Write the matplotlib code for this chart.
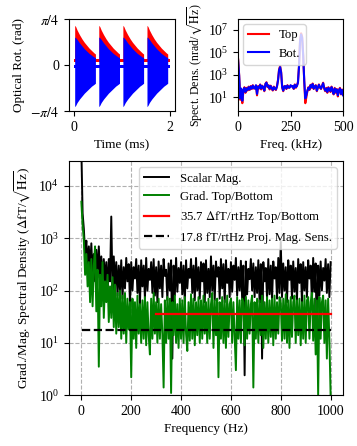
import numpy as np
import matplotlib
matplotlib.use("Agg")
import matplotlib.pyplot as plt
from matplotlib.ticker import FixedLocator, NullLocator

plt.rcParams['font.family'] = 'serif'
plt.rcParams['font.serif'] = ['Liberation Serif', 'DejaVu Serif']
plt.rcParams['mathtext.fontset'] = 'stix'
plt.rcParams['font.size'] = 9.5
plt.rcParams['xtick.labelsize'] = 10
plt.rcParams['ytick.labelsize'] = 10
plt.rcParams['legend.fontsize'] = 9.2

# --- top left: optical rotation, envelope of one pulse (ms from pulse start)
pulse_starts = [0.02, 0.52, 1.02, 1.52]
pulse_t = [0.0, 0.02, 0.05, 0.10, 0.15, 0.20, 0.25, 0.30, 0.35, 0.40, 0.43]
top_upper = [0.68, 0.66, 0.60, 0.52, 0.45, 0.39, 0.34, 0.29, 0.25, 0.21, 0.19]
bot_upper = [0.48, 0.47, 0.44, 0.38, 0.33, 0.28, 0.24, 0.20, 0.17, 0.14, 0.13]
bot_lower = [-0.71, -0.69, -0.64, -0.58, -0.53, -0.48, -0.44, -0.40, -0.36, -0.33, -0.31]
top_base = (0.06, 0.11)
bot_base = (-0.045, 0.0)
t_span = [0.0, 2.0]

# --- top right: optical rotation spectra (kHz)
spec_freq = np.arange(0, 501, 5)
spec_bot = [20000, 800, 8, 60, 5, 40, 70, 30, 60, 45,
            80, 50, 90, 60, 110, 70, 60, 120, 20, 90,
            70, 130, 60, 100, 80, 40, 150, 200, 90, 110,
            60, 100, 70, 45, 80, 60, 50, 90, 300, 2500,
            5000, 1500, 80, 40, 90, 100, 60, 110, 80, 70,
            120, 90, 100, 60, 130, 80, 100, 200, 5000, 1e6,
            4e6, 2e6, 5e4, 300, 8, 15, 40, 70, 50, 120,
            80, 150, 60, 90, 110, 40, 70, 130, 80, 60,
            100, 180, 70, 40, 60, 30, 70, 50, 35, 80,
            40, 20, 60, 30, 50, 15, 40, 60, 20, 45,
            15]
spec_top = [25000, 900, 6, 50, 3, 35, 80, 25, 70, 40,
            90, 45, 100, 55, 120, 60, 70, 110, 15, 100,
            60, 140, 50, 110, 70, 35, 160, 220, 80, 120,
            50, 110, 60, 40, 90, 55, 45, 100, 350, 3000,
            6000, 1800, 70, 35, 100, 90, 55, 120, 70, 80,
            110, 100, 90, 55, 140, 70, 110, 220, 6000, 1.2e6,
            5e6, 2.5e6, 6e4, 250, 3, 10, 35, 80, 45, 130,
            70, 170, 55, 100, 120, 35, 80, 140, 70, 55,
            110, 200, 60, 35, 70, 25, 80, 45, 30, 90,
            35, 18, 70, 25, 55, 12, 45, 70, 18, 50,
            20]

# --- bottom: gradiometer / magnetometer spectra (Hz)
freq = np.arange(0, 1001, 5)
scalar_mag = [50000, 3000, 1500, 500, 900, 300, 700, 250, 800, 200,
              500, 150, 600, 180, 700, 200, 450, 120, 400, 150,
              350, 90, 400, 150, 2600, 100, 450, 120, 350, 80,
              300, 100, 380, 70, 280, 110, 420, 150, 320, 60,
              350, 100, 280, 170, 400, 90, 300, 55, 380, 120,
              300, 70, 420, 100, 260, 160, 350, 90, 400, 80,
              280, 60, 360, 110, 300, 75, 400, 190, 250, 65,
              330, 100, 380, 5, 300, 80, 420, 95, 270, 140,
              350, 85, 300, 60, 380, 110, 260, 175, 400, 90,
              300, 65, 420, 100, 280, 70, 350, 150, 330, 60,
              380, 90, 260, 75, 450, 100, 300, 65, 360, 185,
              280, 70, 400, 110, 320, 60, 380, 140, 260, 75,
              350, 95, 300, 160, 420, 80, 280, 100, 370, 70,
              300, 2.4, 360, 85, 260, 165, 400, 100, 330, 75,
              280, 90, 380, 60, 320, 5, 350, 150, 270, 70,
              400, 85, 300, 65, 360, 170, 280, 70, 420, 90,
              850, 75, 330, 100, 280, 60, 380, 160, 300, 70,
              360, 95, 270, 65, 400, 140, 320, 60, 350, 100,
              280, 75, 380, 170, 300, 60, 420, 95, 330, 7,
              300, 80, 360, 100, 270, 155, 400, 90, 320, 75,
              350]
grad = [5000, 1800, 900, 200, 500, 120, 350, 60, 400, 50,
        300, 700, 40, 250, 3.5, 200, 50, 350, 30, 150,
        60, 200, 25, 120, 30, 180, 20, 130, 15, 90,
        20, 100, 12, 80, 15, 90, 10, 70, 18, 60,
        2.2, 70, 12, 60, 8, 80, 15, 55, 10, 65,
        12, 75, 9, 60, 14, 6, 70, 12, 90, 15,
        60, 10, 70, 12, 55, 15, 1.4, 65, 10, 75,
        12, 70, 1.1, 60, 14, 80, 10, 55, 8, 70,
        12, 65, 10, 75, 15, 7, 60, 11, 85, 12,
        70, 9, 60, 14, 75, 10, 65, 12, 80, 15,
        60, 10, 70, 12, 55, 90, 8, 65, 14, 70,
        2.2, 60, 12, 75, 10, 65, 8, 80, 13, 55,
        70, 10, 60, 14, 3, 75, 12, 65, 10, 70,
        60, 9, 75, 12, 65, 15, 55, 80, 1.4, 60,
        12, 70, 10, 65, 14, 80, 8, 60, 12, 75,
        10, 65, 13, 70, 9, 80, 12, 60, 15, 75,
        60, 11, 70, 12, 85, 10, 65, 8, 75, 13,
        60, 80, 10, 65, 14, 70, 9, 60, 12, 80,
        10, 65, 75, 12, 60, 90, 11, 70, 6, 65,
        1.0, 75, 12, 60, 80, 10, 65, 5, 70, 12,
        1.0]
grad_level = 35.7
grad_span = [300, 1000]
sens_level = 17.8
sens_span = [4, 1000]

fig = plt.figure(figsize=(3.57, 4.46), dpi=100)
ax1 = fig.add_axes([0.193, 0.751, 0.297, 0.206])
ax2 = fig.add_axes([0.667, 0.751, 0.294, 0.206])
ax3 = fig.add_axes([0.193, 0.114, 0.768, 0.525])

# time trace
ax1.fill_between(t_span, top_base[0], top_base[1], color='red', lw=0)
ax1.fill_between(t_span, bot_base[0], bot_base[1], color='blue', lw=0)
for s in pulse_starts:
    tt = s + np.array(pulse_t)
    ax1.fill_between(tt, top_base[0], top_upper, color='red', lw=0)
for s in pulse_starts:
    tt = s + np.array(pulse_t)
    ax1.fill_between(tt, bot_lower, bot_upper, color='blue', lw=0)
ax1.set_xlim(-0.1, 2.1)
ax1.set_ylim(-np.pi / 4, np.pi / 4)
ax1.set_yticks([-np.pi / 4, 0, np.pi / 4])
ax1.set_yticklabels([r'$-\pi/4$', '0', r'$\pi/4$'])
ax1.set_xticks([0, 2])
ax1.set_xlabel('Time (ms)')
ax1.set_ylabel('Optical Rot. (rad)')

# optical spectra
ax2.semilogy(spec_freq, spec_top, color='red', lw=1.5, label='Top')
ax2.semilogy(spec_freq, spec_bot, color='blue', lw=1.5, label='Bot.')
ax2.set_xlim(0, 500)
ax2.set_ylim(0.6, 9e7)
ax2.yaxis.set_major_locator(FixedLocator([1e1, 1e3, 1e5, 1e7]))
ax2.yaxis.set_minor_locator(NullLocator())
ax2.set_xticks([0, 250, 500])
ax2.set_xlabel('Freq. (kHz)')
ax2.set_ylabel(r'Spect. Dens. (nrad/$\sqrt{\mathrm{Hz}}$)', fontsize=8.6,
               labelpad=3)
ax2.legend(loc='upper left', handlelength=1.6, borderaxespad=0.4)

# gradiometer spectra
ax3.semilogy(freq, scalar_mag, color='black', lw=1.4, label='Scalar Mag.')
ax3.semilogy(freq, grad, color='green', lw=1.4, label='Grad. Top/Bottom')
ax3.semilogy(grad_span, [grad_level, grad_level], color='red', lw=1.6,
             label=r'35.7 $\Delta$fT/rtHz Top/Bottom')
ax3.semilogy(sens_span, [sens_level, sens_level], color='black', lw=1.6,
             ls='--', label='17.8 fT/rtHz Proj. Mag. Sens.')
ax3.set_xlim(-50, 1050)
ax3.set_ylim(1, 3e4)
ax3.yaxis.set_minor_locator(NullLocator())
ax3.grid(True, ls='--', color='#b0b0b0', lw=0.8)
ax3.set_xlabel('Frequency (Hz)')
ax3.set_ylabel(r'Grad./Mag. Spectral Density ($\Delta$fT/$\sqrt{\mathrm{Hz}}$)')
ax3.legend(loc='upper right')

fig.savefig('out.png', dpi=100)
